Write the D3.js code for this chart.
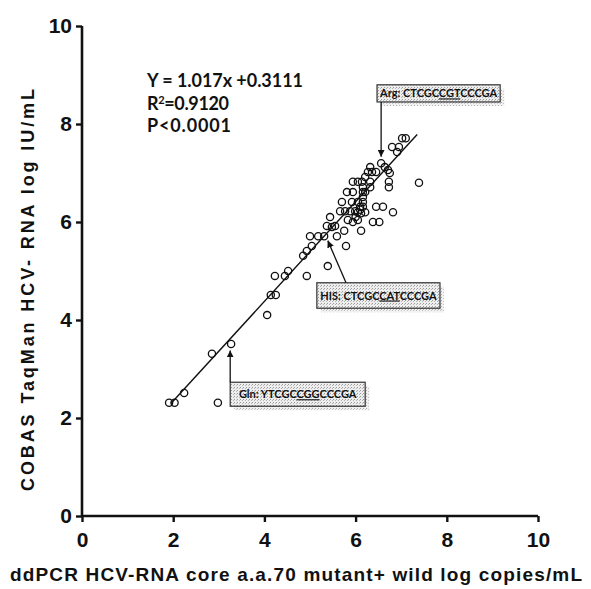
<!DOCTYPE html>
<html>
<head>
<meta charset="utf-8">
<script src="https://cdn.jsdelivr.net/npm/d3@7"></script>
<style>
  body { margin: 0; background: #fff; }
  svg { display: block; }
</style>
</head>
<body>
<svg id="chart" width="591" height="589"></svg>
<script>
// ddPCR (x) vs COBAS TaqMan (y), log values
const ddpcr = [1.91, 2.03, 2.24, 2.98, 2.85, 3.27, 4.06, 4.14, 4.25, 4.23, 4.45, 4.52,
  4.85, 4.93, 4.93, 5.04, 5.00, 5.18, 5.31, 5.39, 5.37, 5.55, 5.44, 5.59, 5.75, 5.79,
  6.12, 6.38, 6.52, 6.45, 6.60, 6.82, 5.83, 5.94, 6.05, 5.66, 5.77, 5.88, 5.70, 5.92,
  6.10, 6.16, 5.81, 5.94, 5.94, 6.14, 6.16, 6.16, 6.16, 6.27, 6.36, 6.45, 6.32, 6.56,
  6.64, 6.71, 6.75, 6.73, 6.73, 6.80, 6.95, 6.91, 7.02, 7.10, 7.39, 6.32, 6.32, 6.21,
  6.21, 6.16, 6.05, 6.05, 6.21, 6.00, 6.05, 5.99, 5.48, 6.10, 6.12];
const cobas = [2.31, 2.31, 2.51, 2.31, 3.31, 3.51, 4.10, 4.51, 4.51, 4.90, 4.90, 5.00,
  5.31, 5.41, 4.90, 5.51, 5.71, 5.71, 5.71, 5.10, 5.92, 5.92, 6.10, 5.71, 5.82, 5.51,
  5.82, 6.00, 6.00, 6.31, 6.31, 6.20, 6.04, 6.00, 6.04, 6.22, 6.22, 6.22, 6.41, 6.41,
  6.31, 6.31, 6.61, 6.61, 6.82, 6.82, 6.61, 6.51, 6.71, 7.02, 7.02, 7.02, 7.12, 7.20,
  7.12, 7.06, 7.00, 6.82, 6.71, 7.53, 7.53, 7.43, 7.71, 7.71, 6.80, 6.82, 6.71, 6.92,
  6.61, 6.41, 6.20, 6.41, 6.20, 6.10, 6.82, 6.22, 5.90, 6.25, 6.18];

const tickVals = [0, 2, 4, 6, 8, 10];
const slope = 1.017, intercept = 0.3111;
const fitFrom = 1.95, fitTo = 7.35;

const statLines = ["Y = 1.017x +0.3111", "R2=0.9120", "P<0.0001"];

const mutLabels = ["Arg:", "HIS:", "Gln:"];
const seqHead = ["CTCGC", "CTCGC", "YTCGC"];
const seqCodon = ["CGT", "CAT", "CGG"];
const seqTail = ["CCCGA", "CCCGA", "CCCGA"];

const xTitle = "ddPCR HCV-RNA core a.a.70 mutant+ wild log copies/mL";
const yTitle = "COBAS TaqMan HCV- RNA log IU/mL";

// callout placement (data units)
const callouts = [
  { box: [6.47, 9.17, 8.80, 8.45], from: [6.56, 8.45], to: [6.56, 7.33] },
  { box: [5.15, 7.85, 4.76, 4.24], from: [5.79, 4.76], to: [5.39, 5.62] },
  { box: [3.25, 6.21, 2.73, 2.24], from: [3.25, 2.73], to: [3.25, 3.38] }
];

const svg = d3.select("#chart");
const x = d3.scaleLinear().domain([0, 10]).range([82, 538]);
const y = d3.scaleLinear().domain([0, 10]).range([516, 26]);

const defs = svg.append("defs");
defs.append("marker")
  .attr("id", "arrow")
  .attr("viewBox", "0 0 10 10")
  .attr("refX", 10).attr("refY", 5)
  .attr("markerWidth", 7).attr("markerHeight", 7)
  .attr("markerUnits", "userSpaceOnUse")
  .attr("orient", "auto")
  .append("path").attr("d", "M0,0 L10,5 L0,10 z").attr("fill", "#111");
const pat = defs.append("pattern")
  .attr("id", "stipple").attr("width", 3).attr("height", 3)
  .attr("patternUnits", "userSpaceOnUse");
pat.append("rect").attr("width", 3).attr("height", 3).attr("fill", "#eeeeee");
pat.append("rect").attr("width", 1).attr("height", 1).attr("fill", "#9a9a9a");
pat.append("rect").attr("x", 2).attr("y", 1).attr("width", 1).attr("height", 1).attr("fill", "#b5b5b5");

// axes
const yAxis = svg.append("g")
  .attr("transform", "translate(82,0)")
  .call(d3.axisLeft(y).tickValues(tickVals).tickSize(6).tickPadding(4).tickFormat(d3.format("d")));
const xAxis = svg.append("g")
  .attr("transform", "translate(0,516)")
  .call(d3.axisBottom(x).tickValues(tickVals).tickSize(6).tickPadding(10).tickFormat(d3.format("d")));
[xAxis, yAxis].forEach(g => {
  g.select(".domain").attr("stroke", "#111").attr("stroke-width", 2.6);
  g.selectAll(".tick line").attr("stroke", "#111").attr("stroke-width", 2.4);
  g.selectAll(".tick text")
    .attr("fill", "#111")
    .style("font-family", "'Liberation Sans', Arial, sans-serif")
    .style("font-weight", "bold")
    .style("font-size", "21px");
});
xAxis.select(".domain").attr("d", `M${x(0)},0H${x(10)}`);
yAxis.select(".domain").attr("d", `M0,${y(10)}V${y(0)}`);

// axis titles
svg.append("text")
  .attr("x", 10).attr("y", 581)
  .attr("textLength", 572).attr("lengthAdjust", "spacing")
  .style("font-family", "'Liberation Sans', Arial, sans-serif")
  .style("font-weight", "bold").style("font-size", "19px")
  .attr("fill", "#111")
  .text(xTitle);
svg.append("text")
  .attr("transform", "translate(34,290) rotate(-90)")
  .attr("text-anchor", "middle")
  .attr("textLength", 402).attr("lengthAdjust", "spacing")
  .style("font-family", "'Liberation Sans', Arial, sans-serif")
  .style("font-weight", "bold").style("font-size", "18px")
  .attr("fill", "#111")
  .text(yTitle);

// regression line
svg.append("line")
  .attr("x1", x(fitFrom)).attr("y1", y(slope * fitFrom + intercept))
  .attr("x2", x(fitTo)).attr("y2", y(slope * fitTo + intercept))
  .attr("stroke", "#111").attr("stroke-width", 1.4);

// points
svg.append("g").selectAll("circle")
  .data(ddpcr.map((d, i) => [d, cobas[i]]))
  .join("circle")
  .attr("cx", d => x(d[0])).attr("cy", d => y(d[1]))
  .attr("r", 3.6)
  .attr("fill", "none").attr("stroke", "#111").attr("stroke-width", 1.3);

// stats text
const stats = svg.append("g")
  .style("font-family", "Lato, 'Open Sans', sans-serif")
  .style("font-weight", "bold").style("font-size", "18px")
  .attr("fill", "#111");
stats.append("text").attr("x", 147).attr("y", 87)
  .attr("textLength", 156).attr("lengthAdjust", "spacing")
  .text(statLines[0]);
const r2 = stats.append("text").attr("x", 147).attr("y", 110)
  .attr("textLength", 82).attr("lengthAdjust", "spacing");
r2.append("tspan").text(statLines[1].slice(0, 1));
r2.append("tspan").attr("dy", -6).style("font-size", "11px").text(statLines[1].slice(1, 2));
r2.append("tspan").attr("dy", 6).text(statLines[1].slice(2));
stats.append("text").attr("x", 147).attr("y", 132)
  .attr("textLength", 84).attr("lengthAdjust", "spacing")
  .text(statLines[2]);

// callouts
callouts.forEach((c, i) => {
  const g = svg.append("g");
  const bx = x(c.box[0]), bw = x(c.box[1]) - x(c.box[0]);
  const by = y(c.box[2]), bh = y(c.box[3]) - y(c.box[2]);
  g.append("rect").attr("x", bx + 4).attr("y", by + 4).attr("width", bw).attr("height", bh)
    .attr("fill", "url(#stipple)").attr("opacity", 0.8);
  g.append("rect").attr("x", bx).attr("y", by).attr("width", bw).attr("height", bh)
    .attr("fill", "url(#stipple)").attr("stroke", "#333").attr("stroke-width", 1.2);
  const t = g.append("text")
    .attr("x", bx + bw / 2).attr("y", by + bh / 2 + 4)
    .attr("text-anchor", "middle")
    .style("font-family", "Lato, 'Open Sans', sans-serif")
    .style("font-weight", "bold").style("font-size", "11px")
    .attr("fill", "#111");
  t.append("tspan").text(mutLabels[i] + " " + seqHead[i]);
  t.append("tspan").style("text-decoration", "underline").text(seqCodon[i]);
  t.append("tspan").text(seqTail[i]);
  g.append("line")
    .attr("x1", x(c.from[0])).attr("y1", y(c.from[1]))
    .attr("x2", x(c.to[0])).attr("y2", y(c.to[1]))
    .attr("stroke", "#111").attr("stroke-width", 1.3)
    .attr("marker-end", "url(#arrow)");
});
</script>
</body>
</html>
